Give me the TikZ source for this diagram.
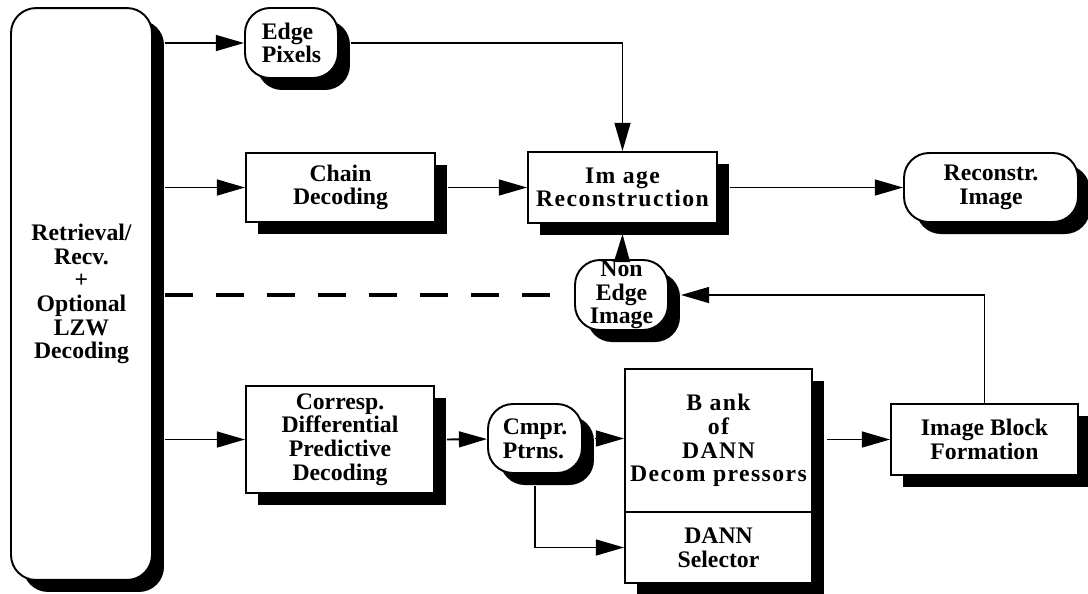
\documentclass[tikz,border=0pt]{standalone}
\usepackage{fontspec}
\setmainfont{Liberation Serif}
\usetikzlibrary{arrows.meta,positioning,calc,shadows}

\begin{document}
\begin{tikzpicture}[x=0.02cm,y=-0.02cm,
    font=\fontsize{13.5}{13.5}\selectfont\bfseries,
    blk/.style={draw,fill=white,line width=1.1pt,align=center,inner sep=1pt,
      drop shadow={shadow xshift=0.24cm,shadow yshift=-0.24cm,fill=black,opacity=1}},
    rnd/.style={blk,rounded corners=0.5cm},
    arr/.style={line width=1.1pt,-{Triangle[length=16pt,width=9pt]}},
    wide/.style={font=\fontsize{13.5}{13.5}\selectfont\bfseries\addfontfeature{LetterSpace=6}}]
    \useasboundingbox (0,0) rectangle (1088,593);

    \node[rnd,minimum width=2.82cm,minimum height=11.44cm] (recv) at (81.5,294) {Retrieval/\\Recv.\\+\\Optional\\LZW\\Decoding};
    \node[rnd,align=left,minimum width=1.86cm,minimum height=1.4cm] (edgepix) at (291.5,43) {Edge\\Pixels};
    \node[blk,minimum width=3.78cm,minimum height=1.38cm] (chain) at (340.5,187.5) {Chain\\Decoding};
    \node[blk,wide,minimum width=3.78cm,minimum height=1.42cm] (recon) at (622.5,187.5) {Im age\\Reconstruction};
    \node[rnd,minimum width=3.48cm,minimum height=1.38cm] (recimg) at (991,187.5) {Reconstr.\\Image};
    \node[rnd,inner ysep=0pt,minimum width=1.86cm,minimum height=1.4cm] (nonedge) at (621.5,295) {Non\\Edge\\Image};

    \node[blk,minimum width=3.76cm,minimum height=2.14cm] (corresp) at (340,439.5) {Corresp.\\Differential\\Predictive\\Decoding};
    \node[rnd,align=left,minimum width=1.88cm,minimum height=1.38cm] (cmpr) at (535,438.5) {Cmpr.\\Ptrns.};
    \node[blk,wide,minimum width=3.74cm,minimum height=2.86cm] (bank) at (718.5,440.5) {B ank\\of\\DANN\\Decom pressors};
    \node[blk,minimum width=3.74cm,minimum height=1.42cm] (sel) at (718.5,547.5) {DANN\\Selector};
    \node[blk,minimum width=3.74cm,minimum height=1.42cm] (block) at (984.5,439.5) {Image Block\\Formation};

    % outputs of the receiver
    \coordinate (bus) at ([xshift=0.24cm]recv.east);
    \coordinate (dashend) at ([xshift=-0.34cm]nonedge.west);
    \draw[arr] (bus|-edgepix) -- (edgepix);
    \draw[arr] (bus|-chain) -- (chain);
    \draw[arr] (bus|-corresp) -- (corresp);
    \draw[line width=2.8pt,dash pattern=on 16pt off 13pt] (bus|-nonedge) -- (dashend);

    \draw[arr] ([xshift=0.24cm]edgepix.east) -| (recon);
    \draw[arr] ([xshift=0.24cm]chain.east) -- (recon);
    \draw[arr] ([xshift=0.24cm]recon.east) -- (recimg);
    \draw[arr] (nonedge) -- ([yshift=-0.2cm]recon.south);

    \draw[arr] ([xshift=0.24cm]corresp.east) -- (cmpr);
    \draw[arr] ([xshift=0.24cm]cmpr.east) -- (bank.west|-cmpr);
    \draw[arr] ([yshift=-0.24cm]cmpr.south) |- (sel);
    \draw[arr] ($(bank.east|-block)+(14,0)$) -- (block);
    \draw[arr] (block) |- ([xshift=0.24cm]nonedge.east);
\end{tikzpicture}
\end{document}
